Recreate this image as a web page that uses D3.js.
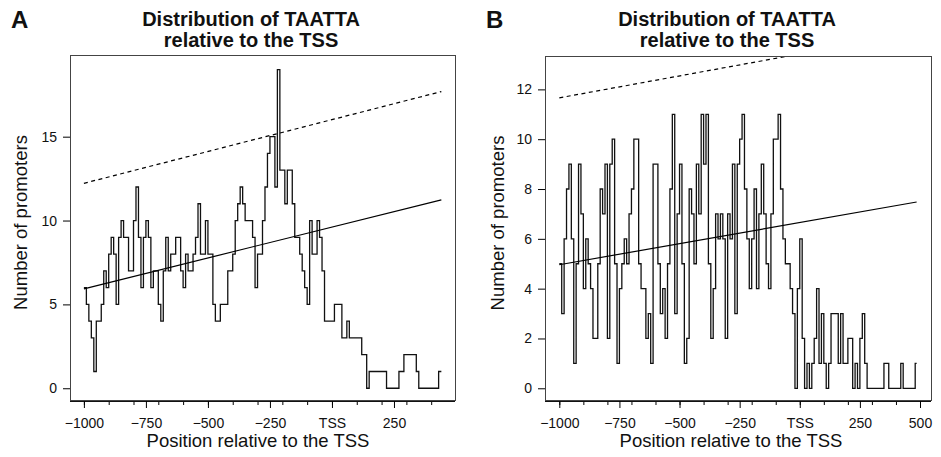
<!DOCTYPE html>
<html>
<head>
<meta charset="utf-8">
<script src="https://cdn.jsdelivr.net/npm/d3@7"></script>
<style>
  body { margin: 0; background: #fff; }
  svg text { font-family: "Liberation Sans", Arial, sans-serif; fill: #111; }
</style>
</head>
<body>
<svg id="chart" width="941" height="457"></svg>
<script>
// promoter counts in 10 bp windows, first window starts at -1000
const binStart = -1000;
const binWidth = 10;

const countsA = [
  6, 5, 4, 3, 1, 4, 4, 5, 7, 6, 8, 9, 8, 5, 9, 10, 9, 9, 7, 7,
  10, 12, 9, 6, 9, 10, 9, 6, 7, 7, 5, 4, 7, 9, 7, 8, 8, 9, 9, 7,
  6, 8, 7, 7, 8, 9, 11, 8, 8, 10, 8, 8, 5, 4, 4, 5, 5, 5, 7, 7,
  8, 10, 11, 12, 11, 10, 10, 10, 9, 6, 8, 8, 10, 12, 14, 15, 15, 12, 19, 13,
  13, 11, 13, 13, 11, 9, 9, 8, 7, 6, 5, 10, 8, 8, 10, 9, 7, 4, 4, 4,
  4, 5, 5, 5, 3, 3, 4, 3, 3, 3, 3, 3, 2, 2, 0, 1, 1, 1, 1, 1,
  1, 1, 0, 0, 0, 0, 0, 1, 1, 2, 2, 2, 2, 2, 1, 0, 0, 0, 0, 0,
  0, 0, 0, 1
];

const countsB = [
  5, 3, 6, 8, 9, 6, 1, 5, 9, 7, 4, 6, 5, 4, 2, 2, 5, 8, 7, 9,
  2, 9, 10, 5, 1, 4, 5, 6, 5, 7, 8, 10, 10, 5, 4, 4, 2, 3, 1, 9,
  9, 5, 3, 4, 2, 5, 8, 11, 3, 7, 9, 5, 1, 2, 8, 7, 5, 9, 7, 11,
  9, 11, 5, 2, 4, 7, 6, 7, 6, 2, 7, 6, 9, 3, 9, 10, 11, 8, 6, 4,
  6, 8, 4, 7, 9, 7, 5, 4, 7, 10, 10, 11, 8, 6, 5, 5, 4, 3, 0, 4,
  6, 2, 0, 1, 0, 1, 2, 4, 1, 3, 1, 0, 1, 3, 3, 3, 1, 3, 1, 1,
  2, 2, 0, 1, 0, 2, 3, 1, 0, 0, 0, 0, 0, 0, 0, 1, 1, 0, 0, 0,
  0, 0, 1, 0, 0, 0, 0, 0, 1
];

// last window ends here
const endA = 441;
const endB = 486;

// fitted line and upper line, values at -1000 and at the end
const fitA = [5.93, 11.23];
const boundA = [12.22, 17.69];
const fitB = [4.96, 7.48];
const boundB = [11.66, 14.28];

const majorTicksA = [-1000, -750, -500, -250, 0, 250];
const majorTicksB = [-1000, -750, -500, -250, 0, 250, 500];
const minorTicksA = [-1000, -900, -800, -700, -600, -500, -400, -300, -200, -100, 0, 100, 200, 300, 400];
const minorTicksB = [-1000, -900, -800, -700, -600, -500, -400, -300, -200, -100, 0, 100, 200, 300, 400, 500];
const yTicksA = [0, 5, 10, 15];
const yTicksB = [0, 2, 4, 6, 8, 10, 12];

const titleLines = ['Distribution of TAATTA', 'relative to the TSS'];
const xTitle = 'Position relative to the TSS';
const yTitle = 'Number of promoters';

const svg = d3.select('#chart');

const panels = [
  {
    letter: 'A', counts: countsA, end: endA, fit: fitA, bound: boundA,
    majors: majorTicksA, minors: minorTicksA, yTicks: yTicksA,
    xDomain: [-1056, 496], yDomain: [-0.70, 19.87],
    box: { left: 70, top: 55, right: 455, bottom: 400 },
    letterX: 11, titleX: 251, xTitleX: 258, yTitleX: 27
  },
  {
    letter: 'B', counts: countsB, end: endB, fit: fitB, bound: boundB,
    majors: majorTicksB, minors: minorTicksB, yTicks: yTicksB,
    xDomain: [-1059.5, 545.7], yDomain: [-0.47, 13.34],
    box: { left: 545, top: 56, right: 931, bottom: 400 },
    letterX: 486, titleX: 727, xTitleX: 731, yTitleX: 504
  }
];

const fmt = d3.format('d');

panels.forEach(p => {
  const x = d3.scaleLinear().domain(p.xDomain).range([p.box.left, p.box.right]);
  const y = d3.scaleLinear().domain(p.yDomain).range([p.box.bottom, p.box.top]);
  const g = svg.append('g');

  const clipId = 'clip' + p.letter;
  svg.append('clipPath').attr('id', clipId)
    .append('rect')
    .attr('x', p.box.left).attr('y', p.box.top)
    .attr('width', p.box.right - p.box.left)
    .attr('height', p.box.bottom - p.box.top);

  // step line of counts
  const pts = p.counts.map((c, i) => [binStart + i * binWidth, c]);
  pts.push([p.end, p.counts[p.counts.length - 1]]);
  const line = d3.line()
    .x(d => x(d[0]))
    .y(d => y(d[1]))
    .curve(d3.curveStepAfter);

  g.append('path')
    .datum(pts)
    .attr('d', line)
    .attr('fill', 'none')
    .attr('stroke', '#111')
    .attr('stroke-width', 1.3);

  // regression line
  const straight = d3.line().x(d => x(d[0])).y(d => y(d[1]));
  g.append('path')
    .datum([[binStart, p.fit[0]], [p.end, p.fit[1]]])
    .attr('d', straight)
    .attr('stroke', '#000')
    .attr('stroke-width', 1.2);

  // dashed upper line (clipped at the plot box)
  g.append('path')
    .datum([[binStart, p.bound[0]], [p.end, p.bound[1]]])
    .attr('d', straight)
    .attr('clip-path', `url(#${clipId})`)
    .attr('stroke', '#000')
    .attr('stroke-width', 1.2)
    .attr('stroke-dasharray', '4,3.5');

  // box
  g.append('rect')
    .attr('x', p.box.left + 0.5).attr('y', p.box.top + 0.5)
    .attr('width', p.box.right - p.box.left)
    .attr('height', p.box.bottom - p.box.top)
    .attr('fill', 'none')
    .attr('stroke', '#444')
    .attr('stroke-width', 1);

  // bottom axis: minor ticks then labelled ticks
  const xMinor = svg.append('g')
    .attr('transform', `translate(0,${p.box.bottom + 1})`)
    .call(d3.axisBottom(x).tickValues(p.minors).tickSize(4).tickFormat(''));
  xMinor.select('.domain').remove();

  const xMajor = svg.append('g')
    .attr('transform', `translate(0,${p.box.bottom + 1})`)
    .call(d3.axisBottom(x).tickValues(p.majors).tickSize(7).tickPadding(10)
      .tickFormat(d => d === 0 ? 'TSS' : fmt(d)));
  xMajor.select('.domain')
    .attr('d', `M${p.box.left},0.5H${p.box.right}`)
    .attr('stroke', '#111');
  xMajor.selectAll('text')
    .attr('font-size', 14)
    .attr('font-family', '"Liberation Sans", Arial, sans-serif');

  // left axis
  const yAxis = svg.append('g')
    .attr('transform', `translate(${p.box.left},0)`)
    .call(d3.axisLeft(y).tickValues(p.yTicks).tickSize(7).tickPadding(6));
  yAxis.select('.domain').remove();
  yAxis.selectAll('text')
    .attr('font-size', 14)
    .attr('font-family', '"Liberation Sans", Arial, sans-serif');

  // titles
  g.append('text')
    .attr('x', p.letterX).attr('y', 28)
    .attr('font-size', 24).attr('font-weight', 'bold')
    .text(p.letter);

  g.selectAll('.title')
    .data(titleLines)
    .enter().append('text')
    .attr('class', 'title')
    .attr('x', p.titleX)
    .attr('y', (d, i) => 26 + i * 21)
    .attr('text-anchor', 'middle')
    .attr('font-size', 20).attr('font-weight', 'bold')
    .text(d => d);

  g.append('text')
    .attr('x', p.xTitleX).attr('y', 447)
    .attr('text-anchor', 'middle')
    .attr('font-size', 18.5)
    .text(xTitle);

  g.append('text')
    .attr('transform', `translate(${p.yTitleX},${(p.box.top + p.box.bottom) / 2 - 5}) rotate(-90)`)
    .attr('text-anchor', 'middle')
    .attr('font-size', 18.5)
    .text(yTitle);
});
</script>
</body>
</html>
